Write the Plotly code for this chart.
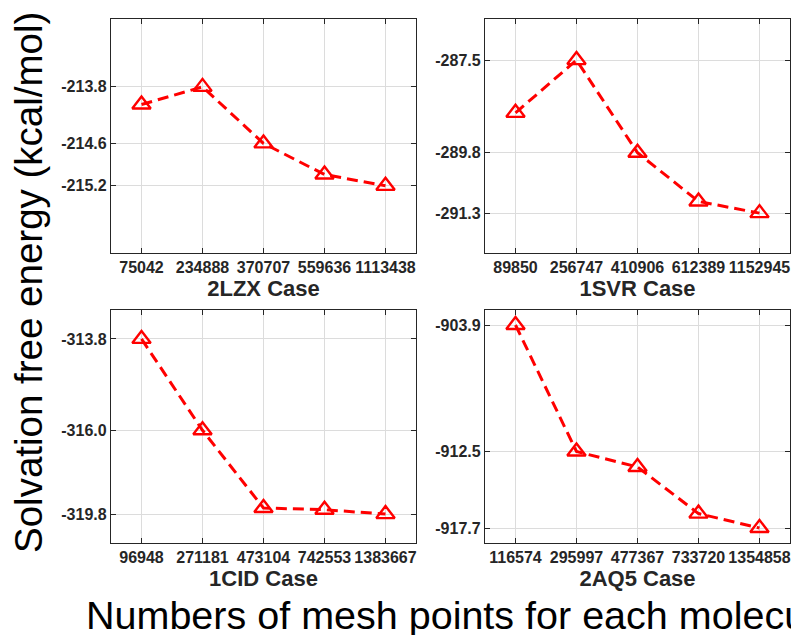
import plotly.graph_objects as go

# Mesh sizes (x categories) and solvation free energies for each molecule
cases = ["2LZX Case", "1SVR Case", "1CID Case", "2AQ5 Case"]

mesh_2lzx = ["75042", "234888", "370707", "559636", "1113438"]
energy_2lzx = [-214.05, -213.8, -214.6, -215.04, -215.2]
ytick_idx_2lzx = [1, 2, 4]
ytick_text_2lzx = ["-213.8", "-214.6", "-215.2"]

mesh_1svr = ["89850", "256747", "410906", "612389", "1152945"]
energy_1svr = [-288.81, -287.5, -289.8, -291.01, -291.3]
ytick_idx_1svr = [1, 2, 4]
ytick_text_1svr = ["-287.5", "-289.8", "-291.3"]

mesh_1cid = ["96948", "271181", "473104", "742553", "1383667"]
energy_1cid = [-313.8, -316.93, -319.59, -319.65, -319.8]
ytick_idx_1cid = [0, 1, 4]
ytick_text_1cid = ["-313.8", "-316.0", "-319.8"]

mesh_2aq5 = ["116574", "295997", "477367", "733720", "1354858"]
energy_2aq5 = [-903.9, -912.5, -913.55, -916.72, -917.7]
ytick_idx_2aq5 = [0, 1, 4]
ytick_text_2aq5 = ["-903.9", "-912.5", "-917.7"]

panels = [
    (mesh_2lzx, energy_2lzx, ytick_idx_2lzx, ytick_text_2lzx, [-216.15, -212.84]),
    (mesh_1svr, energy_1svr, ytick_idx_1svr, ytick_text_1svr, [-292.29, -286.48]),
    (mesh_1cid, energy_1cid, ytick_idx_1cid, ytick_text_1cid, [-320.79, -312.81]),
    (mesh_2aq5, energy_2aq5, ytick_idx_2aq5, ytick_text_2aq5, [-918.72, -902.88]),
]

W, H = 791, 635
x_domains = [[111 / W, 416 / W], [485 / W, 790 / W]]
y_domains = [[1 - 253 / H, 1 - 19 / H], [1 - 543 / H, 1 - 310 / H]]

AX = "#262626"
GRID = "#dcdcdc"
FONT = "Liberation Sans, Arial, sans-serif"

fig = go.Figure()
layout = dict(
    width=W, height=H, autosize=False,
    margin=dict(l=0, r=0, t=0, b=0),
    paper_bgcolor="white", plot_bgcolor="white",
    showlegend=False,
    font=dict(family=FONT, color=AX),
)

for i, (mesh, energy, tidx, ttext, yrange) in enumerate(panels):
    row, col = divmod(i, 2)
    n = i + 1
    xa = "x" if n == 1 else f"x{n}"
    ya = "y" if n == 1 else f"y{n}"
    fig.add_trace(go.Scatter(
        x=mesh, y=energy, xaxis=xa, yaxis=ya,
        mode="lines+markers",
        line=dict(color="red", width=3, dash="11px,6px"),
        marker=dict(symbol="triangle-up-open", size=16,
                    color="red", line=dict(color="red", width=2.4)),
        cliponaxis=False,
    ))
    common = dict(
        showline=True, linecolor=AX, linewidth=1.3, mirror="allticks",
        ticks="inside", ticklen=5, tickwidth=1.2, tickcolor=AX,
        showgrid=True, gridcolor=GRID, gridwidth=1, zeroline=False,
        tickfont=dict(family=FONT, size=16, color=AX, weight="bold"),
    )
    layout["xaxis" if n == 1 else f"xaxis{n}"] = dict(
        common, domain=x_domains[col], anchor=ya,
        type="category", range=[-0.5, len(mesh) - 0.5],
        title=dict(text=cases[i], standoff=0,
                   font=dict(family=FONT, size=22, color=AX, weight="bold")),
    )
    layout["yaxis" if n == 1 else f"yaxis{n}"] = dict(
        common, domain=y_domains[row], anchor=xa,
        range=yrange,
        tickvals=[energy[k] for k in tidx], ticktext=ttext,
    )

layout["annotations"] = [
    dict(text="Solvation free energy (kcal/mol)", textangle=-90,
         x=28 / W, y=1 - 283 / H, xref="paper", yref="paper",
         xanchor="center", yanchor="middle", showarrow=False,
         font=dict(family=FONT, size=38.5, color="black")),
    dict(text="Numbers of mesh points for each molecule",
         x=84 / W, y=1 - 615 / H, xref="paper", yref="paper",
         xanchor="left", yanchor="middle", showarrow=False,
         font=dict(family=FONT, size=39.5, color="black")),
]

fig.update_layout(**layout)
fig.write_html("out.html")
